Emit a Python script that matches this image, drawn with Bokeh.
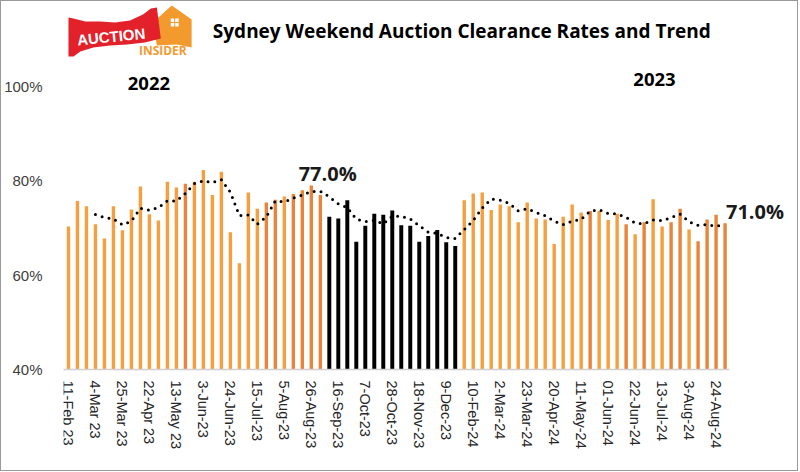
import math
import pandas as pd
from bokeh.plotting import figure
from bokeh.layouts import column
from bokeh.models import ColumnDataSource, FixedTicker, Label, Range1d
from bokeh.core.properties import value
from bokeh.embed import file_html
from bokeh.resources import INLINE

# ---------------- data ----------------
rates = [70.3, 75.7, 74.6, 70.8, 67.8, 74.6, 69.5, 73.9, 78.8, 72.9,
         71.6, 79.8, 78.6, 79.4, 79.8, 82.3, 77.0, 81.9, 69.1, 62.5,
         77.5, 74.1, 75.4, 76.0, 76.7, 77.2, 78.0, 79.0, 77.0, 72.4,
         72.0, 75.9, 67.1, 70.5, 73.0, 72.8, 73.7, 70.6, 70.5, 67.1,
         68.3, 69.6, 67.0, 66.2, 75.9, 77.3, 77.5, 73.8, 75.0, 74.6,
         71.2, 75.4, 72.0, 71.8, 66.6, 72.4, 75.0, 73.3, 73.6, 73.6,
         71.7, 73.0, 70.8, 68.7, 71.2, 76.1, 70.3, 71.2, 74.1, 69.7,
         67.2, 71.8, 72.8, 71.0]

tick_labels = ["11-Feb 23", "4-Mar 23", "25-Mar 23", "22-Apr 23", "13-May 23",
               "3-Jun-23", "24-Jun-23", "15-Jul-23", "5-Aug-23", "26-Aug-23",
               "16-Sep-23", "7-Oct-23", "28-Oct-23", "18-Nov-23", "9-Dec-23",
               "10-Feb-24", "2-Mar-24", "23-Mar-24", "20-Apr-24", "11-May-24",
               "01-Jun-24", "22-Jun-24", "13-Jul-24", "3-Aug-24", "24-Aug-24"]
tick_every = 3

y_ticks = [40, 60, 80, 100]
y_tick_labels = ["40%", "60%", "80%", "100%"]

black_first, black_last = 29, 43
dark_orange_idx = [13, 22, 23, 25, 26, 27, 28, 58, 62, 64, 67, 68, 70, 71, 72, 73]
callout_idx = [28, 73]
trend_window = 4

title_text = "Sydney Weekend Auction Clearance Rates and Trend"
year_labels = ["2022", "2023"]

# ---------------- derived ----------------
n = len(rates)
idx = list(range(n))
trend = pd.Series(rates).rolling(trend_window).mean().tolist()

LIGHT, DARK, BLACK = "#F5A040", "#E8853C", "#000000"
colors, widths = [], []
for i in idx:
    if black_first <= i <= black_last:
        colors.append(BLACK); widths.append(0.44)
    elif i in dark_orange_idx:
        colors.append(DARK); widths.append(0.38)
    else:
        colors.append(LIGHT); widths.append(0.38)

W = 796
H_MAIN, H_TICKS = 376, 93
PPX, PPY = 9.056, 4.7167


def X(px):
    return (px - 63) / PPX


def Y(py):
    return 40 + (369 - py) / PPY


x_range = Range1d(X(58), X(797))

p = figure(width=W, height=H_MAIN, output_backend="svg", toolbar_location=None,
           x_range=x_range, y_range=Range1d(40, Y(1)),
           min_border_left=57, min_border_right=0, min_border_top=0,
           min_border_bottom=8, background_fill_color="white",
           border_fill_color="white")
p.outline_line_color = None
p.grid.visible = False

# x axis (line on the main chart; rotated tick labels are drawn in the strip below)
ticks = list(range(0, n, tick_every))
p.xaxis.ticker = FixedTicker(ticks=ticks)
p.xaxis.major_label_overrides = {t: "" for t in ticks}
p.xaxis.major_label_text_font_size = "0px"
p.xaxis.major_label_standoff = 0
p.xaxis.major_tick_out = 0
p.xaxis.major_tick_in = 0
p.xaxis.bounds = (-0.5, n - 0.5)
p.xaxis.major_tick_line_color = None
p.xaxis.minor_tick_line_color = None
p.xaxis.axis_line_color = "#D0D0D0"
p.xaxis.axis_line_width = 1.5

# y axis
p.yaxis.ticker = FixedTicker(ticks=y_ticks)
p.yaxis.major_label_overrides = {t: lab for t, lab in zip(y_ticks, y_tick_labels)}
p.yaxis.axis_line_color = None
p.yaxis.major_tick_line_color = None
p.yaxis.minor_tick_line_color = None
p.yaxis.major_label_text_font = "Liberation Sans"
p.yaxis.major_label_text_font_size = "15px"
p.yaxis.major_label_text_color = "#404040"
p.yaxis.major_label_standoff = 15

# bars
src = ColumnDataSource(dict(x=idx, top=rates, color=colors, w=widths))
p.vbar(x="x", top="top", bottom=40, width="w", fill_color="color",
       line_color=None, source=src)

# trend
p.line(idx, trend, line_color="black", line_width=3, line_dash="0 7",
       line_cap="round")

# callouts
c_src = ColumnDataSource(dict(
    x=[callout_idx[0] + 0.82, callout_idx[1] + 0.1],
    y=[rates[callout_idx[0]] + 4.6, rates[callout_idx[1]] + 2.5],
    text=[f"{rates[i]:.1f}%" for i in callout_idx],
    align=["center", "left"]))
p.text(x="x", y="y", text="text", text_align="align", source=c_src,
       text_baseline="alphabetic", text_font=value("Open Sans"),
       text_font_style="bold", text_font_size="20px", text_color="#1a1a1a")

# title and year labels
p.add_layout(Label(x=X(459), y=Y(30), text=title_text, text_align="center",
                   text_baseline="alphabetic", text_font="Open Sans",
                   text_font_style="bold", text_font_size="19px",
                   text_color="#000000"))
p.add_layout(Label(x=X(144), y=Y(83), text=year_labels[0], text_align="center",
                   text_baseline="alphabetic", text_font="Open Sans",
                   text_font_style="bold", text_font_size="18.5px", text_color="#000000"))
p.add_layout(Label(x=X(653), y=Y(79), text=year_labels[1], text_align="center",
                   text_baseline="alphabetic", text_font="Open Sans",
                   text_font_style="bold", text_font_size="18.5px", text_color="#000000"))

# logo (decorative)
house = [(148, 22), (167, 5), (187, 19), (187, 47), (172, 44), (152, 45)]
p.patch([X(a) for a, b in house], [Y(b) for a, b in house],
        fill_color="#F29A2E", line_color=None)
for (wx, wy) in [(166, 18), (170.5, 18), (166, 22.5), (170.5, 22.5)]:
    sq = [(wx, wy), (wx + 3.5, wy), (wx + 3.5, wy + 3.5), (wx, wy + 3.5)]
    p.patch([X(a) for a, b in sq], [Y(b) for a, b in sq],
            fill_color="white", line_color=None)
flag = [(63, 17), (68, 18), (80, 21), (95, 21), (110, 22), (125, 20), (138, 14),
        (146, 8), (152, 7), (156, 38), (140, 42), (122, 44), (105, 45), (88, 47),
        (75, 51), (68, 56), (63, 56)]
p.patch([X(a) for a, b in flag], [Y(b) for a, b in flag],
        fill_color="#E3212B", line_color=None)
p.add_layout(Label(x=X(106), y=Y(36), text="AUCTION", text_align="center",
                   text_baseline="alphabetic", text_font="Liberation Sans",
                   text_font_style="bold", text_font_size="15px",
                   text_color="white", angle=0.1))
p.add_layout(Label(x=X(158), y=Y(50), text="INSIDER", text_align="center",
                   text_baseline="alphabetic", text_font="Open Sans",
                   text_font_style="bold", text_font_size="12px",
                   text_color="#F29A2E"))

# strip with the rotated date labels, sharing the chart's x scale
q = figure(width=W, height=H_TICKS, output_backend="svg", toolbar_location=None,
           x_range=x_range, y_range=Range1d(0, H_TICKS),
           min_border_left=57, min_border_right=0, min_border_top=0,
           min_border_bottom=0, background_fill_color="white",
           border_fill_color="white")
q.axis.visible = False
q.grid.visible = False
q.outline_line_color = None
tick_src = ColumnDataSource(dict(x=ticks, text=tick_labels))
q.text(x="x", y=H_TICKS - 3, text="text", source=tick_src, angle=-math.pi / 2,
       text_align="left", text_baseline="middle",
       text_font=value("Liberation Sans"), text_font_size="14.5px",
       text_color="#262626")

layout = column(p, q, spacing=0)
layout.styles = {"border": "1px solid #9a9a9a"}

open("out.html", "w").write(file_html(layout, INLINE))
